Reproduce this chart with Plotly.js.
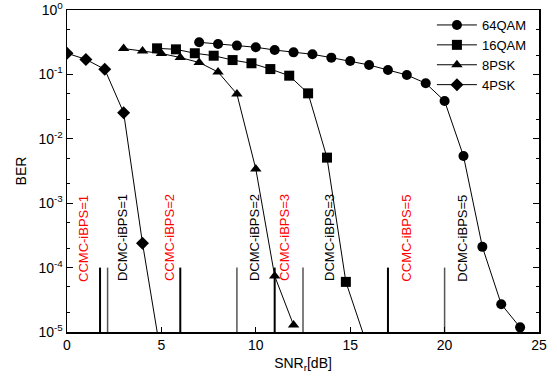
<!DOCTYPE html>
<html>
<head>
<meta charset="utf-8">
<script src="https://cdn.plot.ly/plotly-3.0.1.min.js"></script>
<style>html,body{margin:0;padding:0;background:#fff;}#chart{width:557px;height:379px;}</style>
</head>
<body>
<div id="chart"></div>
<script>
// ---- data ----
const seriesNames = ['64QAM', '16QAM', '8PSK', '4PSK'];
const snr64 = [7, 8, 9, 10, 11, 12, 13, 14, 15, 16, 17, 18, 19, 20, 21, 22, 23, 24];
const ber64 = [0.315, 0.297, 0.28, 0.264, 0.239, 0.22, 0.205, 0.182, 0.161, 0.14, 0.117, 0.098, 0.0728, 0.0386, 0.0054, 2.1e-4, 2.7e-5, 1.18e-5];
const snr16 = [4.77, 5.77, 6.77, 7.77, 8.77, 9.77, 10.77, 11.77, 12.77, 13.77, 14.77, 15.77];
const ber16 = [0.254, 0.245, 0.213, 0.195, 0.167, 0.149, 0.121, 0.0955, 0.0508, 0.0051, 6.0e-5, 8e-6];
const snr8 = [3, 4, 5, 6, 7, 8, 9, 10, 11, 12];
const ber8 = [0.252, 0.231, 0.211, 0.183, 0.153, 0.109, 0.0496, 0.0034, 7.4e-5, 1.28e-5];
const snr4 = [0, 1, 2, 3, 4, 5];
const ber4 = [0.213, 0.171, 0.12, 0.0254, 2.38e-4, 4e-6];

// capacity thresholds (SNR_r in dB)
const ccmcX = [1.75, 6, 11, 17];
const dcmcX = [2.15, 9, 12.5, 20];
const markerBer = [1e-5, 1e-4];
const ccmcLabels = ['CCMC-iBPS=1', 'CCMC-iBPS=2', 'CCMC-iBPS=3', 'CCMC-iBPS=5'];
const dcmcLabels = ['DCMC-iBPS=1', 'DCMC-iBPS=2', 'DCMC-iBPS=3', 'DCMC-iBPS=5'];
const ccmcLabelX = [0.9, 5.46, 11.55, 17.99];
const dcmcLabelX = [2.97, 9.96, 13.93, 20.96];
const labelBer = 10 ** -3.54;

const yTickVals = [1, 0.1, 0.01, 0.001, 0.0001, 0.00001];
const yTickText = ['10<sup>0</sup>', '10<sup>-1</sup>', '10<sup>-2</sup>', '10<sup>-3</sup>', '10<sup>-4</sup>', '10<sup>-5</sup>'];
const yMinorVals = [];
yTickVals.forEach(v => { [2, 5].forEach(m => { if (v * m <= 1) yMinorVals.push(v * m); }); });

// ---- build ----
const FONT = 'Liberation Sans, Arial, Helvetica, sans-serif';
function vlines(xs, color, width) {
  const x = [], y = [];
  xs.forEach(v => { x.push(v, v, null); y.push(markerBer[0], markerBer[1], null); });
  return {x, y, mode: 'lines', line: {color, width}, showlegend: false, hoverinfo: 'skip'};
}
const traces = [
  vlines(dcmcX, '#555555', 1.5),
  vlines(ccmcX, '#000000', 2),
];
const sym = ['circle', 'square', 'triangle-up', 'diamond'];
const sizes = [10, 10, 10, 10];
const xs = [snr64, snr16, snr8, snr4];
const ys = [ber64, ber16, ber8, ber4];
seriesNames.forEach((n, i) => {
  traces.push({
    x: xs[i], y: ys[i], name: n, mode: 'lines+markers',
    line: {color: '#000', width: 1},
    marker: {symbol: sym[i], size: sizes[i], color: '#000'}
  });
});

const annotations = [];
ccmcLabels.forEach((t, i) => annotations.push({x: ccmcLabelX[i], y: Math.log10(labelBer), text: t, textangle: -90, showarrow: false, xanchor: 'center', yanchor: 'middle', font: {family: FONT, size: 13, color: '#ff0000'}}));
dcmcLabels.forEach((t, i) => annotations.push({x: dcmcLabelX[i], y: Math.log10(labelBer), text: t, textangle: -90, showarrow: false, xanchor: 'center', yanchor: 'middle', font: {family: FONT, size: 13, color: '#000'}}));

const layout = {
  width: 557, height: 379,
  margin: {l: 67, r: 18, t: 10, b: 47},
  paper_bgcolor: '#fff', plot_bgcolor: '#fff',
  font: {family: FONT, size: 14, color: '#000'},
  showlegend: true,
  legend: {x: 0.985, y: 1.0, xanchor: 'right', yanchor: 'top', bgcolor: 'rgba(0,0,0,0)', font: {family: FONT, size: 13, color: '#000'}, itemwidth: 40},
  xaxis: {
    range: [0, 25], dtick: 5, tick0: 0, ticks: 'inside', ticklen: 5, tickwidth: 1, tickcolor: '#000',
    showline: true, linecolor: '#000', linewidth: 1.5, mirror: true, showgrid: false, zeroline: false,
    tickfont: {family: FONT, size: 14},
    title: {text: 'SNR<sub>r</sub>[dB]', font: {family: FONT, size: 14}, standoff: 6}
  },
  yaxis: {
    type: 'log', range: [-5, 0], tickmode: 'array', tickvals: yTickVals, ticktext: yTickText,
    ticks: 'inside', ticklen: 6, tickwidth: 1, tickcolor: '#000',
    minor: {tickmode: 'array', tickvals: yMinorVals, ticks: 'inside', ticklen: 3, tickcolor: '#000', showgrid: false},
    showline: true, linecolor: '#000', linewidth: 1.5, mirror: 'ticks', showgrid: false, zeroline: false,
    tickfont: {family: FONT, size: 14},
    title: {text: 'BER', font: {family: FONT, size: 14}, standoff: 8}
  },
  annotations
};
Plotly.newPlot('chart', traces, layout, {displayModeBar: false, staticPlot: true});
</script>
</body>
</html>
